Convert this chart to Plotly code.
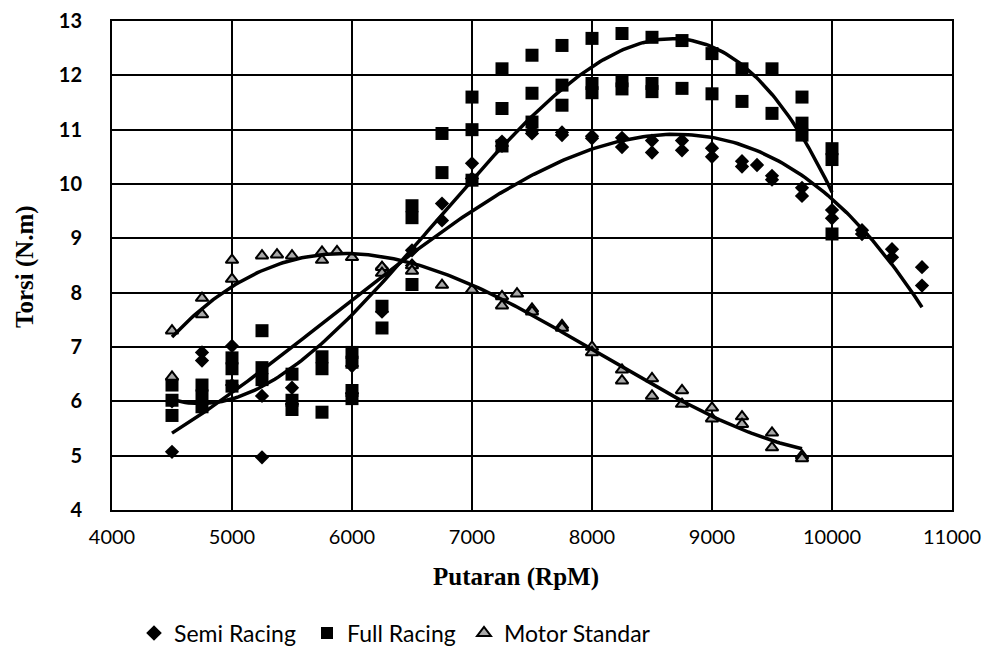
import numpy as np
import plotly.graph_objects as go

# ---------------- data ----------------
semi_rpm = [4500, 4500, 4750, 4750, 5000, 5000, 5250, 5250, 5500, 5500,
            6000, 6000, 6250, 6250, 6500, 6500, 6750, 6750, 7000, 7000,
            7250, 7250, 7500, 7500, 7750, 7750, 8000, 8000, 8250, 8250,
            8500, 8500, 8750, 8750, 9000, 9000, 9250, 9250, 9375, 9500,
            9500, 9750, 9750, 10000, 10000, 10250, 10250, 10500, 10500,
            10750, 10750]
semi_torque = [5.07, 6.0, 6.9, 6.75, 7.02, 6.3, 6.1, 4.97, 6.25, 5.95,
               6.65, 6.15, 7.65, 8.45, 8.78, 8.5, 9.64, 9.33, 10.38, 10.1,
               10.78, 10.7, 10.98, 10.93, 10.95, 10.9, 10.88, 10.84, 10.85, 10.68,
               10.8, 10.58, 10.8, 10.62, 10.66, 10.5, 10.42, 10.32, 10.35, 10.15,
               10.08, 9.93, 9.78, 9.52, 9.37, 9.15, 9.08, 8.8, 8.65,
               8.47, 8.13]

full_rpm = [4500, 4500, 4500, 4750, 4750, 4750, 5000, 5000, 5000,
            5250, 5250, 5250, 5500, 5500, 5500, 5750, 5750, 5750,
            6000, 6000, 6000, 6000, 6250, 6250, 6500, 6500, 6500,
            6750, 6750, 7000, 7000, 7000, 7250, 7250, 7250,
            7500, 7500, 7500, 7750, 7750, 7750, 8000, 8000, 8000,
            8250, 8250, 8250, 8500, 8500, 8500, 8750, 8750,
            9000, 9000, 9250, 9250, 9500, 9500, 9750, 9750, 9750,
            10000, 10000, 10000]
full_torque = [6.3, 6.02, 5.74, 6.3, 6.1, 5.9, 6.8, 6.6, 6.28,
               7.3, 6.62, 6.4, 6.5, 6.02, 5.85, 6.82, 6.6, 5.8,
               6.9, 6.72, 6.2, 6.05, 7.75, 7.35, 9.6, 9.38, 8.15,
               10.93, 10.21, 11.6, 11.0, 10.07, 12.12, 11.39, 10.7,
               12.37, 11.67, 11.14, 12.55, 11.82, 11.45, 12.68, 11.85, 11.68,
               12.77, 11.9, 11.75, 12.7, 11.85, 11.7, 12.64, 11.76,
               12.4, 11.66, 12.12, 11.52, 12.12, 11.3, 11.6, 11.12, 10.9,
               10.65, 10.45, 9.08]

std_rpm = [4500, 4500, 4750, 4750, 5000, 5000, 5250, 5375, 5500,
           5750, 5750, 5875, 6000, 6250, 6250, 6500, 6500, 6750, 7000,
           7250, 7250, 7375, 7500, 7500, 7750, 7750, 8000, 8000,
           8250, 8250, 8500, 8500, 8750, 8750, 9000, 9000,
           9250, 9250, 9500, 9500, 9750, 9750]
std_torque = [7.3, 6.45, 7.9, 7.6, 8.6, 8.25, 8.68, 8.7, 8.68,
              8.75, 8.6, 8.76, 8.65, 8.47, 8.36, 8.5, 8.4, 8.14, 8.05,
              7.93, 7.76, 7.98, 7.7, 7.65, 7.4, 7.35, 7.0, 6.9,
              6.58, 6.38, 6.42, 6.1, 6.2, 5.95, 5.88, 5.68,
              5.72, 5.58, 5.42, 5.15, 5.0, 4.95]

series_names = ["Semi Racing", "Full Racing", "Motor Standar"]
x_ticks = [4000, 5000, 6000, 7000, 8000, 9000, 10000, 11000]
y_ticks = [4, 5, 6, 7, 8, 9, 10, 11, 12, 13]

# ---------------- figure ----------------
fig = go.Figure()

marker_styles = [
    dict(symbol="diamond", size=11, color="black", line=dict(width=0)),
    dict(symbol="square", size=13, color="black", line=dict(width=0)),
    dict(symbol="triangle-up", size=11, color="#a8a8a8",
         line=dict(width=2, color="black")),
]
data = [(semi_rpm, semi_torque), (full_rpm, full_torque), (std_rpm, std_torque)]
legend_ids = ["legend", "legend2", "legend3"]

for (xs, ys), name, ms, lg in zip(data, series_names, marker_styles, legend_ids):
    fig.add_trace(go.Scatter(x=xs, y=ys, mode="markers", name=name,
                             marker=ms, legend=lg))

# polynomial (order 3) trend lines, fitted to each series
for xs, ys in data:
    xa = np.array(xs, dtype=float) / 1000.0
    coef = np.polyfit(xa, np.array(ys, dtype=float), 3)
    xx = np.linspace(xa.min(), xa.max(), 200)
    fig.add_trace(go.Scatter(x=xx * 1000, y=np.polyval(coef, xx), mode="lines",
                             line=dict(color="black", width=3.5),
                             showlegend=False, hoverinfo="skip"))

# page body has an 8px default margin: work in screen pixels, then shift
OFF = 8
W, H = 990 - OFF, 647 - OFF
plot_left, plot_right, plot_top, plot_bottom = 112, 952, 21, 510
L, R = plot_left - OFF, W - (plot_right - OFF)
T, B = plot_top - OFF, H - (plot_bottom - OFF)
pw, ph = W - L - R, H - T - B

def px_x(sx):
    return (sx - OFF - L) / pw

def px_y(sy):
    return (H - B - (sy - OFF)) / ph

legend_font = dict(family="Lato", size=23, color="black")
for lg, text_start in zip(legend_ids, [172, 345, 502]):
    fig.update_layout({lg: dict(
        x=px_x(text_start - 38), y=px_y(633), xanchor="left", yanchor="middle",
        orientation="h", font=legend_font, bgcolor="rgba(0,0,0,0)",
        itemsizing="constant")})

fig.update_layout(
    width=W, height=H,
    margin=dict(l=L, r=R, t=T, b=B, autoexpand=False),
    paper_bgcolor="white", plot_bgcolor="white",
    xaxis=dict(range=[4000, 11000], tickvals=x_ticks,
               ticktext=[str(v) for v in x_ticks],
               showgrid=True, gridcolor="black", gridwidth=2,
               showline=True, linecolor="black", linewidth=2, mirror=True,
               zeroline=False, ticks="",
               tickfont=dict(family="Lato", size=20, color="black"),
               ticklabelstandoff=8),
    yaxis=dict(range=[4, 13], tickvals=y_ticks,
               ticktext=[str(v) for v in y_ticks],
               showgrid=True, gridcolor="black", gridwidth=2,
               showline=True, linecolor="black", linewidth=2, mirror=True,
               zeroline=False, ticks="",
               tickfont=dict(family="Lato", size=20, color="black", weight="bold"),
               ticklabelstandoff=24),
    annotations=[
        dict(text="<b>Putaran (RpM)</b>", xref="paper", yref="paper",
             x=px_x(516), y=px_y(577), xanchor="center", yanchor="middle",
             showarrow=False,
             font=dict(family="Liberation Serif", size=25, color="black")),
        dict(text="<b>Torsi (N.m)</b>", xref="paper", yref="paper",
             x=px_x(25), y=px_y(267), xanchor="center", yanchor="middle",
             textangle=-90, showarrow=False,
             font=dict(family="Liberation Serif", size=25, color="black")),
    ],
)

fig.write_html("out.html")
